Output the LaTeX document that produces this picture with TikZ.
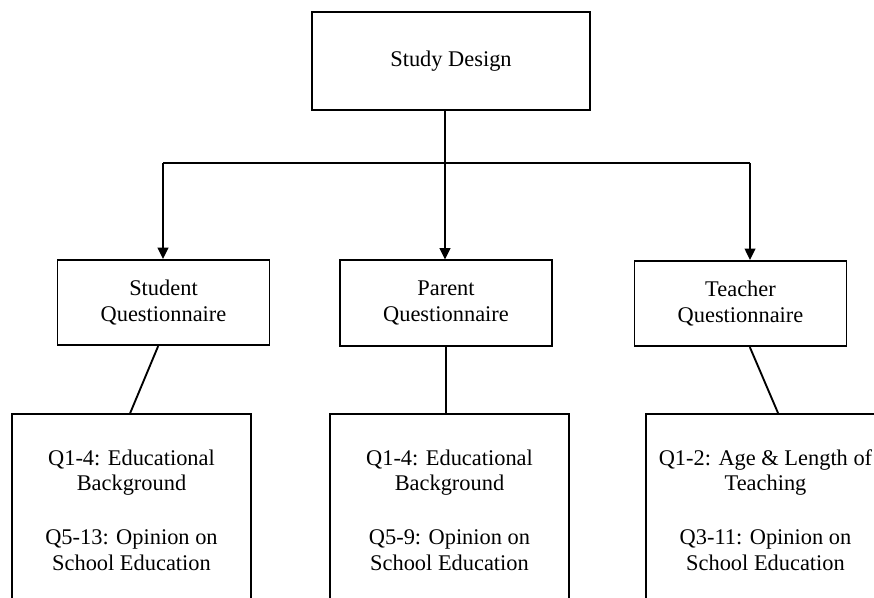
\documentclass[tikz,border=0pt]{standalone}
\usepackage{fontspec}
\setmainfont{Liberation Serif}
\usetikzlibrary{arrows.meta}

\tikzset{
    box/.style={draw, line width=1.4pt, align=center, inner sep=0pt,
        font=\fontsize{16.8}{19.2}\selectfont},
    topbox/.style={box, minimum width=159pt, minimum height=64pt},
    qbox/.style={box, minimum width=179pt, minimum height=144pt},
    link/.style={line width=1.4pt},
    arrow/.style={link, -{Triangle[width=8pt, length=8.5pt]}}
}

\begin{document}
\begin{tikzpicture}[x=0.75pt, y=-0.75pt]
            \clip (0,0) rectangle (874,598);
            % Top
            \node[box, minimum width=208.5pt, minimum height=73.5pt] (design) at (451, 61) {Study Design};

            % Questionnaires
            \node[topbox] (student) at (163.5, 302.5) {Student\\Questionnaire};
            \node[topbox] (parent) at (446, 303) {Parent\\Questionnaire};
            \node[topbox] (teacher) at (740.5, 303.5) {Teacher\\Questionnaire};

            % Question groups
            \node[qbox] (sq) at (131.5, 510) {Q1-4: Educational\\Background\\[21pt]Q5-13: Opinion on\\School Education};
            \node[qbox] (pq) at (449.5, 510) {Q1-4: Educational\\Background\\[21pt]Q5-9: Opinion on\\School Education};
            \node[qbox] (tq) at (765.5, 510) {Q1-2: Age \& Length of\\Teaching\\[21pt]Q3-11: Opinion on\\School Education};

            \coordinate (split) at (445, 163);
            \coordinate (left) at (163, 163);
            \coordinate (right) at (750, 163);

            \draw [link] (design.south -| split) -- (split);
            \draw [link] (left) -- (right);
            \draw [arrow] (left) -- (left |- student.north);
            \draw [arrow] (split) -- (split |- parent.north);
            \draw [arrow] (right) -- (right |- teacher.north);

            \draw [link] ([xshift=-4pt]student.south) -- ([xshift=-1pt]sq.north);
            \draw [link] (parent.south) -- (parent.south |- pq.north);
            \draw [link] ([xshift=7pt]teacher.south) -- ([xshift=9.4pt]tq.north);

        \end{tikzpicture}
\end{document}
